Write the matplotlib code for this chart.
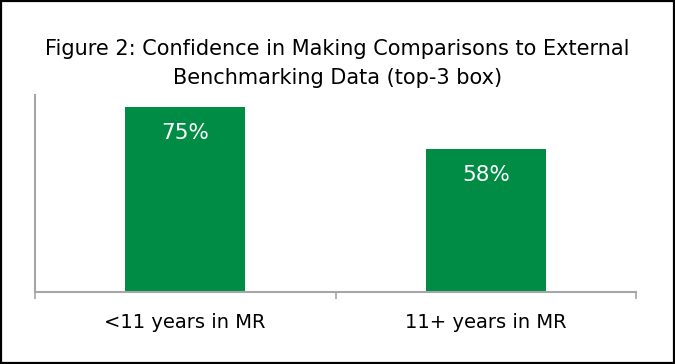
import matplotlib
matplotlib.use("Agg")
from matplotlib import pyplot as plt

categories = ["<11 years in MR", "11+ years in MR"]
values = [75, 58]
value_labels = ["75%", "58%"]
title = "Figure 2: Confidence in Making Comparisons to External\nBenchmarking Data (top-3 box)"

bar_color = "#008C45"
axis_gray = "#A6A6A6"

fig = plt.figure(figsize=(6.75, 3.64), dpi=100)
ax = fig.add_axes([35/675, 72/364, 601/675, 197/364])

ax.bar(range(len(values)), values, width=0.4, color=bar_color)
ax.set_xlim(-0.5, 1.5)
ax.set_ylim(0, 80)

# value labels inside the bars
for i, (v, lab) in enumerate(zip(values, value_labels)):
    ax.text(i, v - 10.5, lab, ha="center", va="center", color="white", fontsize=15.5)

ax.set_xticks([-0.5, 0.5, 1.5])
ax.set_xticklabels([])
ax.set_xticks([0, 1], minor=True)
ax.set_xticklabels(categories, minor=True, fontsize=14)
ax.tick_params(axis="x", which="minor", length=0, pad=15)
ax.tick_params(axis="x", which="major", length=5, width=1.2, color=axis_gray)
ax.set_yticks([])
for s in ["top", "right"]:
    ax.spines[s].set_visible(False)
for s in ["left", "bottom"]:
    ax.spines[s].set_color(axis_gray)
    ax.spines[s].set_linewidth(1.5)

fig.text(0.5, 0.826, title, ha="center", va="center", fontsize=15, linespacing=1.6)

# thin black frame around the image
fig.patches.append(plt.Rectangle((0.001, 0.002), 0.998, 0.996, transform=fig.transFigure,
                                 fill=False, edgecolor="black", linewidth=1.6))

fig.savefig("out.png", dpi=100)
